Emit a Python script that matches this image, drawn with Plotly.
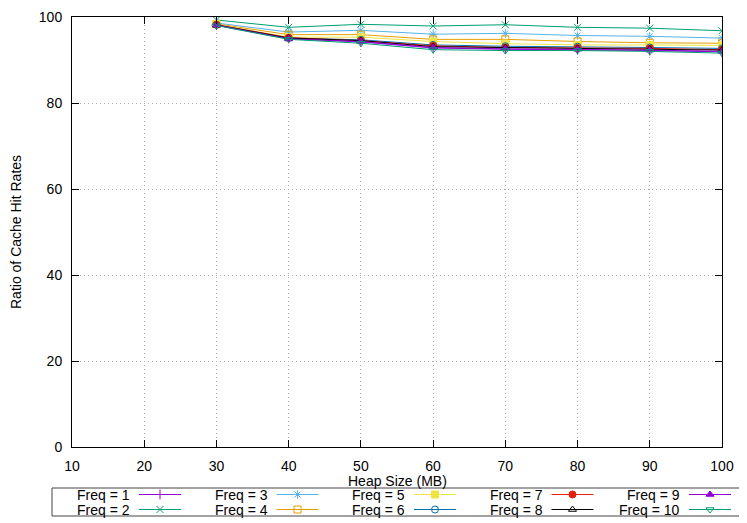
import plotly.graph_objects as go

# ---------------- data ----------------
heap_sizes = [30, 40, 50, 60, 70, 80, 90, 100]
freq_labels = ["Freq = 1", "Freq = 2", "Freq = 3", "Freq = 4", "Freq = 5",
               "Freq = 6", "Freq = 7", "Freq = 8", "Freq = 9", "Freq = 10"]
hit_f1 = [98.1, 95.0, 94.2, 92.8, 92.5, 92.4, 92.2, 91.9]
hit_f2 = [99.3, 97.6, 98.3, 97.9, 98.2, 97.6, 97.4, 96.8]
hit_f3 = [98.6, 96.5, 96.9, 96.0, 96.2, 95.7, 95.5, 95.1]
hit_f4 = [98.4, 95.9, 95.9, 94.8, 94.8, 94.3, 94.0, 93.9]
hit_f5 = [98.3, 95.3, 95.3, 94.3, 93.8, 93.5, 93.5, 93.4]
hit_f6 = [98.2, 95.1, 94.7, 93.5, 93.2, 93.1, 92.9, 92.7]
hit_f7 = [98.2, 95.2, 94.5, 93.3, 92.9, 92.8, 92.7, 92.4]
hit_f8 = [98.1, 95.1, 94.5, 93.1, 92.9, 92.7, 92.6, 92.3]
hit_f9 = [98.1, 94.9, 94.3, 92.9, 92.6, 92.5, 92.3, 92.0]
hit_f10 = [98.0, 94.8, 93.9, 92.4, 92.2, 92.2, 92.0, 91.6]
series = [hit_f1, hit_f2, hit_f3, hit_f4, hit_f5, hit_f6, hit_f7, hit_f8, hit_f9, hit_f10]

x_title = "Heap Size (MB)"
y_title = "Ratio of Cache Hit Rates"

# ---------------- styles ----------------
colors = ["#9400d3", "#009e73", "#56b4e9", "#e69f00", "#f0e442",
          "#0072b2", "#e51e10", "#000000", "#9400d3", "#009e73"]
symbols = ["cross-thin-open", "x-thin-open", "asterisk-open", "square-open", "square",
           "circle-open", "circle", "triangle-up-open", "triangle-up", "triangle-down-open"]

# page body has an 8px margin: the figure is drawn at (8, 8)
OFF = 8
W, H = 747 - OFF, 523 - OFF          # figure size
PL, PR, PT, PB = 72, 722, 17, 447    # plot area in window pixels
KEY_TOP_PX = 478                     # top of the key's drawing band (window px)
FONT = "Liberation Sans, Arial, sans-serif"


def px(xw):
    return (xw - OFF) / W


def py(yw):
    return 1 - (yw - OFF) / H


fig = go.Figure()

for i, ys in enumerate(series):
    fig.add_trace(go.Scatter(
        x=heap_sizes, y=ys, mode="lines+markers", name=freq_labels[i],
        line=dict(color=colors[i], width=1),
        marker=dict(symbol=symbols[i], size=7, color=colors[i],
                    line=dict(color=colors[i], width=1)),
        showlegend=False, xaxis="x", yaxis="y"))

# ---------------- manual gnuplot-style key ----------------
key_left, key_right, key_top, key_bottom = 52, 740, 488, 516
col_text_end0, col_step = 131, 137.5
row_y = [494.5, 509.5]
for i in range(10):
    col, row = i // 2, i % 2
    te = col_text_end0 + col * col_step
    ry = row_y[row]
    fig.add_trace(go.Scatter(
        x=[te + 8, te + 50], y=[ry, ry], mode="lines",
        line=dict(color=colors[i], width=1),
        showlegend=False, hoverinfo="skip", xaxis="x2", yaxis="y2"))
    fig.add_trace(go.Scatter(
        x=[te + 29], y=[ry], mode="markers",
        marker=dict(symbol=symbols[i], size=7, color=colors[i],
                    line=dict(color=colors[i], width=1)),
        showlegend=False, hoverinfo="skip", xaxis="x2", yaxis="y2"))
    fig.add_annotation(x=px(te), y=py(ry), xref="paper", yref="paper",
                       text=freq_labels[i], showarrow=False, xanchor="right",
                       yanchor="middle", borderpad=0,
                       font=dict(family=FONT, size=14, color="black"))

fig.add_shape(type="rect", xref="paper", yref="paper",
              x0=px(key_left), x1=px(key_right), y0=py(key_bottom), y1=py(key_top),
              line=dict(color="#444444", width=1), fillcolor="rgba(0,0,0,0)", layer="above")

# axis titles
fig.add_annotation(x=px((PL + PR) / 2), y=py(481), xref="paper", yref="paper",
                   text=x_title, showarrow=False, xanchor="center", yanchor="middle",
                   borderpad=0, font=dict(family=FONT, size=14, color="black"))
fig.add_annotation(x=px(16), y=py((PT + PB) / 2), xref="paper", yref="paper",
                   text=y_title, showarrow=False, textangle=-90, xanchor="center",
                   yanchor="middle", font=dict(family=FONT, size=14, color="black"))

axis_common = dict(showline=True, linecolor="black", linewidth=1, mirror="ticks",
                   ticks="inside", ticklen=7, tickcolor="black", tickwidth=1,
                   showgrid=True, gridcolor="#b4b4b4", griddash="1px,3px", gridwidth=1,
                   zeroline=False, automargin=False,
                   tickfont=dict(family=FONT, size=14, color="black"))

fig.update_layout(
    template="none",
    width=W, height=H,
    margin=dict(l=0, r=0, t=0, b=0, pad=0),
    paper_bgcolor="white", plot_bgcolor="rgba(0,0,0,0)",
    showlegend=False,
    font=dict(family=FONT, size=14, color="black"),
    xaxis=dict(domain=[px(PL), px(PR)], range=[10, 100], tick0=10, dtick=10,
               anchor="y", ticklabelstandoff=6, **axis_common),
    yaxis=dict(domain=[py(PB), py(PT)], range=[0, 100], tick0=0, dtick=20,
               anchor="x", ticklabelstandoff=6, **axis_common),
    xaxis2=dict(domain=[0, 1], range=[OFF, 747], visible=False, fixedrange=True,
                anchor="y2", automargin=False),
    yaxis2=dict(domain=[0, py(KEY_TOP_PX)], range=[523, KEY_TOP_PX], visible=False,
                fixedrange=True, anchor="x2", automargin=False),
)

fig.write_html("out.html")
